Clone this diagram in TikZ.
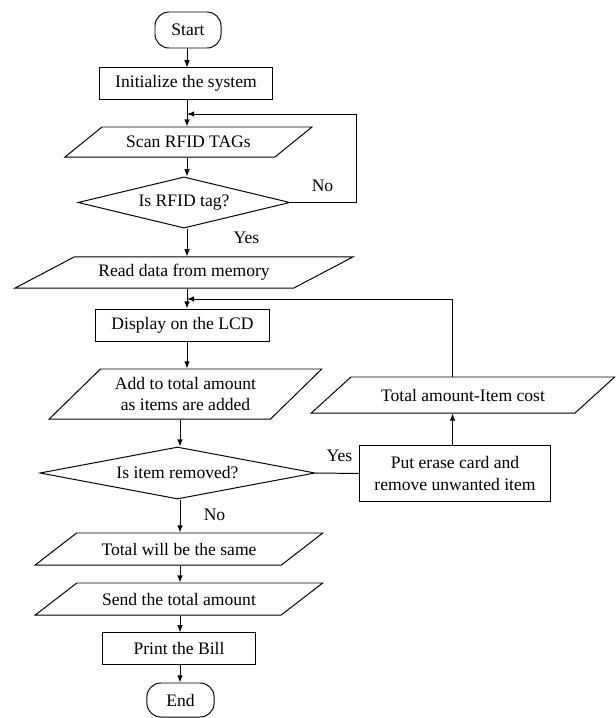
\documentclass[tikz,border=0pt]{standalone}
\usepackage{fontspec}
\setmainfont{Liberation Serif}
\usetikzlibrary{shapes.geometric,arrows.meta}
\tikzset{
    base/.style={draw,line width=0.7pt,font=\fontsize{12.5}{15.5}\selectfont,align=center,inner sep=2pt},
    term/.style={base,rectangle,rounded corners=0.35cm},
    proc/.style={base,rectangle},
    io/.style={base,trapezium,trapezium stretches=true},
    dec/.style={base,diamond,inner sep=0pt},
    lbl/.style={font=\fontsize{12.5}{15.5}\selectfont,inner sep=0pt},
    arr/.style={line width=0.7pt,-{Latex[length=1.8mm,width=1.4mm]}},
    line/.style={line width=0.7pt},
}

\begin{document}
\begin{tikzpicture}[x=0.025cm,y=-0.025cm]
    \useasboundingbox (0,0) rectangle (616,718);
    % main column
    \node[term,minimum width=1.65cm,minimum height=0.9cm] (start) at (188,30) {Start};
    \node[proc,minimum width=4.3cm,minimum height=0.78cm] (init) at (186,83.5) {Initialize the system};
    \node[io,trapezium left angle=32,trapezium right angle=148,minimum width=6.18cm,minimum height=0.75cm] (scan) at (188.5,142) {Scan RFID TAGs};
    \node[dec,aspect=4.2,minimum width=5.3cm,minimum height=1.28cm] (rfid) at (184,202.5) {Is RFID tag?};
    \node[io,trapezium left angle=24.5,trapezium right angle=155.5,minimum width=8.45cm,minimum height=0.78cm] (read) at (184,272.5) {Read data from memory};
    \node[proc,minimum width=4.33cm,minimum height=0.8cm] (lcd) at (182.5,325) {Display on the LCD};
    \node[io,trapezium left angle=42,trapezium right angle=138,minimum width=6.83cm,minimum height=1.25cm] (add) at (185.5,394) {Add to total amount\\as items are added};
    \node[dec,aspect=5.3,minimum width=6.88cm,minimum height=1.3cm] (removed) at (177.5,473) {Is item removed?};
    \node[io,trapezium left angle=29,trapezium right angle=151,minimum width=7.2cm,minimum height=0.8cm] (same) at (179,549) {Total will be the same};
    \node[io,trapezium left angle=29,trapezium right angle=151,minimum width=7.2cm,minimum height=0.8cm] (send) at (179,599) {Send the total amount};
    \node[proc,minimum width=3.8cm,minimum height=0.78cm] (bill) at (179,648.5) {Print the Bill};
    \node[term,minimum width=1.68cm,minimum height=0.85cm] (end) at (180.5,700) {End};
    % right branch
    \node[proc,minimum width=4.75cm,minimum height=1.38cm] (erase) at (455,473.5) {Put erase card and\\remove unwanted item};
    \node[io,trapezium left angle=31,trapezium right angle=149,minimum width=7.6cm,minimum height=0.9cm] (cost) at (463,395) {Total amount-Item cost};
    % labels
    \node[lbl] (no1) at (322.5,186) {No};
    \node[lbl] (yes1) at (246.5,238) {Yes};
    \node[lbl] (yes2) at (339.5,456) {Yes};
    \node[lbl] (no2) at (214.5,515) {No};
    % columns
    \coordinate (c1) at (187,0);
    \coordinate (c2) at (180,0);
    \coordinate (c3) at (452.5,0);
    \coordinate (noback) at (356,114);
    \coordinate (merge) at (0,299);
    \draw[arr] (c1 |- start.south) -- (c1 |- init.north);
    \draw[arr] (c1 |- init.south) -- (c1 |- scan.north);
    \draw[arr] (c1 |- scan.south) -- (c1 |- rfid.north);
    \draw[arr] (c1 |- rfid.south) -- (c1 |- read.north);
    \draw[arr] (c1 |- read.south) -- (c1 |- lcd.north);
    \draw[arr] (c1 |- lcd.south) -- (c1 |- add.north);
    \draw[arr] (c2 |- add.south) -- (c2 |- removed.north);
    \draw[arr] (c2 |- removed.south) -- (c2 |- same.north);
    \draw[arr] (c2 |- same.south) -- (c2 |- send.north);
    \draw[arr] (c2 |- send.south) -- (c2 |- bill.north);
    \draw[arr] (c2 |- bill.south) -- (c2 |- end.north);
    \draw[arr] (rfid.east) -| (noback) -- (c1 |- noback);
    \draw[line] (removed.east) -- (erase.west);
    \draw[arr] (c3 |- erase.north) -- (c3 |- cost.south);
    \draw[arr] (c3 |- cost.north) |- (c1 |- merge);
\end{tikzpicture}
\end{document}
